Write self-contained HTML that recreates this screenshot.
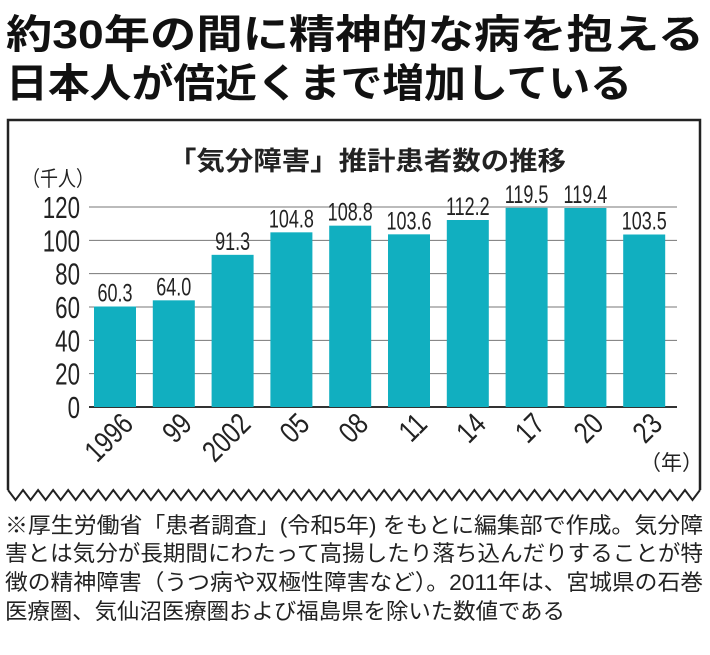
<!DOCTYPE html>
<html><head><meta charset="utf-8"><style>
html,body{margin:0;padding:0;background:#fff;}
svg{display:block;font-family:"Liberation Sans","Noto Sans CJK JP",sans-serif;}
</style></head><body>
<svg id="c" width="710" height="655" viewBox="0 0 710 655">
<text x="6" y="48" font-size="40" font-weight="bold" textLength="698" lengthAdjust="spacingAndGlyphs" fill="#111">約30年の間に精神的な病を抱える</text>
<text x="6" y="97" font-size="40" font-weight="bold" textLength="626" lengthAdjust="spacingAndGlyphs" fill="#111">日本人が倍近くまで増加している</text>
<path d="M8,490 L8,120 L700,120 L700,490" fill="none" stroke="#222" stroke-width="2.5"/>
<path id="zig" fill="none" stroke="#222" stroke-width="2"/>
<text x="168" y="170" font-size="26" font-weight="bold" textLength="398" lengthAdjust="spacingAndGlyphs" fill="#222">「気分障害」推計患者数の推移</text>
<text x="22" y="186" font-size="21" fill="#222" textLength="72" lengthAdjust="spacingAndGlyphs">（千人）</text>
<text x="640" y="470" font-size="21" fill="#222">（年）</text>
<g id="grid"></g><g id="bars"></g><g id="labels"></g>
<text x="5" y="533" font-size="22" textLength="698" lengthAdjust="spacingAndGlyphs" fill="#222">※厚生労働省「患者調査」(令和5年) をもとに編集部で作成。気分障</text>
<text x="5" y="561" font-size="22" textLength="698" lengthAdjust="spacingAndGlyphs" fill="#222">害とは気分が長期間にわたって高揚したり落ち込んだりすることが特</text>
<text x="5" y="590" font-size="22" textLength="698" lengthAdjust="spacingAndGlyphs" fill="#222">徴の精神障害（うつ病や双極性障害など）。2011年は、宮城県の石巻</text>
<text x="5" y="619" font-size="22" textLength="560" lengthAdjust="spacingAndGlyphs" fill="#222">医療圏、気仙沼医療圏および福島県を除いた数値である</text>
</svg>
<script>
const categories=["1996","99","2002","05","08","11","14","17","20","23"];
const values=[60.3,64.0,91.3,104.8,108.8,103.6,112.2,119.5,119.4,103.5];
const valueLabels=["60.3","64.0","91.3","104.8","108.8","103.6","112.2","119.5","119.4","103.5"];
const yTicks=[0,20,40,60,80,100,120];
const NS="http://www.w3.org/2000/svg";
const x0=89,x1=677,y0=407,yTop=207,yMax=120,barStart=94;
const step=58.8, bw=42;
const ys=v=>y0-(v/yMax)*(y0-yTop);
const xs=i=>barStart+step*i;
function mk(t,a,p){const e=document.createElementNS(NS,t);for(const k in a)e.setAttribute(k,a[k]);p.appendChild(e);return e;}
const grid=document.getElementById('grid'),bars=document.getElementById('bars'),labels=document.getElementById('labels');
yTicks.forEach(t=>{
  const l=mk('line',{x1:x0,x2:x1,y1:ys(t),y2:ys(t),stroke:t===0?'#333':'#777','stroke-width':t===0?2:1},grid);
  
  
  const tx=mk('text',{x:80,y:ys(t)+11,'font-size':31,'text-anchor':'end',fill:'#222',transform:`translate(80,0) scale(0.72,1) translate(-80,0)`},grid);
  tx.textContent=t;
  
  
});
categories.forEach((c,i)=>{
  const v=values[i],x=xs(i),y=ys(v);
  const r=mk('rect',{x:x,y:y,width:bw,height:y0-y,fill:'#11afc0'},bars);
  
  
  const cx=x+bw/2;
  const t=mk('text',{x:cx,y:y-5,'font-size':25,'text-anchor':'middle',fill:'#222',transform:`translate(${cx},0) scale(0.72,1) translate(${-cx},0)`},labels);
  t.textContent=valueLabels[i];
  
  
  const ax=cx+12,ay=418;
  const xl=mk('text',{x:0,y:0,'font-size':30,'text-anchor':'end',fill:'#222',transform:`translate(${ax},${ay}) rotate(-45) scale(0.8,1) translate(0,11)`},labels);
  xl.textContent=c;
  
  
});
let d="M8,490";const n=46,w=692/n;
for(let i=0;i<n;i++){d+=` L${8+w*i+w/2},500 L${8+w*(i+1)},490`;}
document.getElementById('zig').setAttribute('d',d);
</script>
</body></html>
